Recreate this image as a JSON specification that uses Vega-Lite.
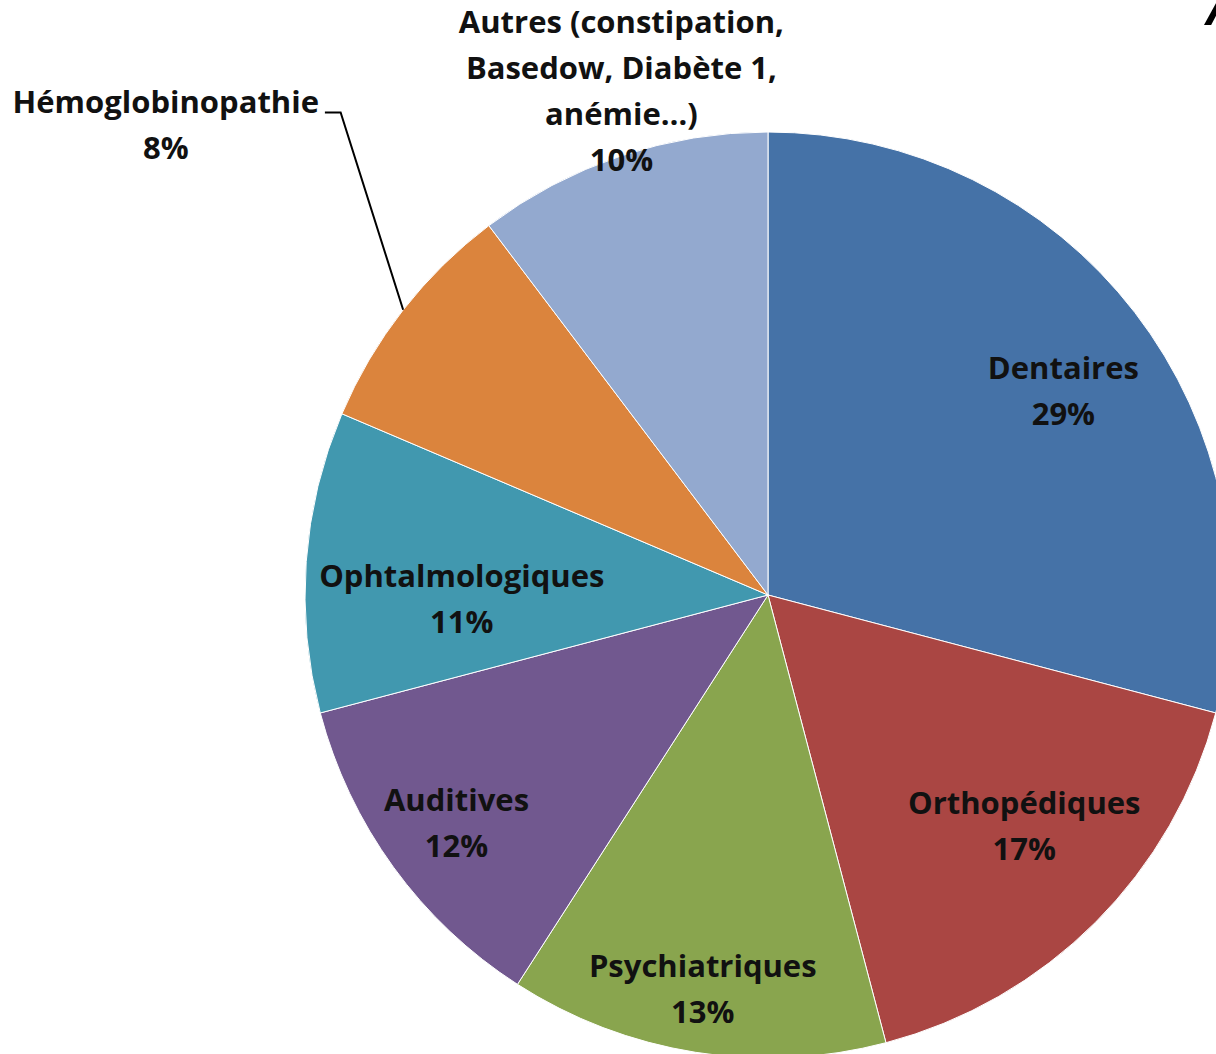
{
  "$schema": "https://vega.github.io/schema/vega-lite/v6.json",
  "width": 1536,
  "height": 1190,
  "autosize": {"type": "none"},
  "padding": 0,
  "background": "white",
  "config": {
    "view": {"stroke": null},
    "text": {"font": "Open Sans", "fontWeight": "bold", "fontSize": 31, "lineHeight": 46, "color": "#111111", "lineBreak": "\n", "align": "center", "baseline": "middle"}
  },
  "datasets": {
    "parts": [
      {"categorie": "Dentaires", "ordre": 1, "valeur": 29.1, "label": "Dentaires\n29%"},
      {"categorie": "Orthopédiques", "ordre": 2, "valeur": 16.8, "label": "Orthopédiques\n17%"},
      {"categorie": "Psychiatriques", "ordre": 3, "valeur": 13.2, "label": "Psychiatriques\n13%"},
      {"categorie": "Auditives", "ordre": 4, "valeur": 11.8, "label": "Auditives\n12%"},
      {"categorie": "Ophtalmologiques", "ordre": 5, "valeur": 10.5, "label": "Ophtalmologiques\n11%"},
      {"categorie": "Hémoglobinopathie", "ordre": 6, "valeur": 8.3, "label": "Hémoglobinopathie\n8%"},
      {"categorie": "Autres", "ordre": 7, "valeur": 10.3, "label": "Autres (constipation,\nBasedow, Diabète 1,\nanémie…)\n10%"}
    ],
    "leader": [
      {"x": -0.957, "y": 1.042, "o": 1},
      {"x": -0.923, "y": 1.042, "o": 2},
      {"x": -0.788, "y": 0.616, "o": 3}
    ],
    "annot": [{"x": 0.944, "y": 1.231, "t": "A"}]
  },
  "layer": [
    {
      "data": {"name": "parts"},
      "mark": {"type": "arc", "outerRadius": 463, "stroke": "white", "strokeWidth": 1},
      "encoding": {
        "theta": {"field": "valeur", "type": "quantitative", "stack": true, "scale": {"domain": [0, 100]}},
        "order": {"field": "ordre", "type": "quantitative", "sort": "ascending"},
        "color": {
          "field": "categorie", "type": "nominal", "legend": null,
          "scale": {
            "domain": ["Dentaires", "Orthopédiques", "Psychiatriques", "Auditives", "Ophtalmologiques", "Hémoglobinopathie", "Autres"],
            "range": ["#4572A7", "#AA4643", "#89A54E", "#71588F", "#4198AF", "#DB843D", "#93A9CF"]
          }
        }
      }
    },
    {
      "data": {"name": "parts"},
      "mark": {"type": "text", "radius": 359, "dx": 11, "dy": -6},
      "encoding": {
        "theta": {"field": "valeur", "type": "quantitative", "stack": true},
        "order": {"field": "ordre", "type": "quantitative", "sort": "ascending"},
        "text": {"condition": {"test": "datum.categorie === 'Dentaires'", "field": "label"}, "value": ""}
      }
    },
    {
      "data": {"name": "parts"},
      "mark": {"type": "text", "radius": 344, "dx": 13, "dy": -33},
      "encoding": {
        "theta": {"field": "valeur", "type": "quantitative", "stack": true},
        "order": {"field": "ordre", "type": "quantitative", "sort": "ascending"},
        "text": {"condition": {"test": "datum.categorie === 'Orthopédiques'", "field": "label"}, "value": ""}
      }
    },
    {
      "data": {"name": "parts"},
      "mark": {"type": "text", "radius": 398, "dx": -3, "dy": -20},
      "encoding": {
        "theta": {"field": "valeur", "type": "quantitative", "stack": true},
        "order": {"field": "ordre", "type": "quantitative", "sort": "ascending"},
        "text": {"condition": {"test": "datum.categorie === 'Psychiatriques'", "field": "label"}, "value": ""}
      }
    },
    {
      "data": {"name": "parts"},
      "mark": {"type": "text", "radius": 385, "dy": -19},
      "encoding": {
        "theta": {"field": "valeur", "type": "quantitative", "stack": true},
        "order": {"field": "ordre", "type": "quantitative", "sort": "ascending"},
        "text": {"condition": {"test": "datum.categorie === 'Auditives'", "field": "label"}, "value": ""}
      }
    },
    {
      "data": {"name": "parts"},
      "mark": {"type": "text", "radius": 305, "dx": -2, "dy": 5},
      "encoding": {
        "theta": {"field": "valeur", "type": "quantitative", "stack": true},
        "order": {"field": "ordre", "type": "quantitative", "sort": "ascending"},
        "text": {"condition": {"test": "datum.categorie === 'Ophtalmologiques'", "field": "label"}, "value": ""}
      }
    },
    {
      "data": {"name": "parts"},
      "mark": {"type": "text", "radius": 764, "dy": -21},
      "encoding": {
        "theta": {"field": "valeur", "type": "quantitative", "stack": true},
        "order": {"field": "ordre", "type": "quantitative", "sort": "ascending"},
        "text": {"condition": {"test": "datum.categorie === 'Hémoglobinopathie'", "field": "label"}, "value": ""}
      }
    },
    {
      "data": {"name": "parts"},
      "mark": {"type": "text", "radius": 524, "dx": 20, "dy": -74},
      "encoding": {
        "theta": {"field": "valeur", "type": "quantitative", "stack": true},
        "order": {"field": "ordre", "type": "quantitative", "sort": "ascending"},
        "text": {"condition": {"test": "datum.categorie === 'Autres'", "field": "label"}, "value": ""}
      }
    },
    {
      "data": {"name": "leader"},
      "mark": {"type": "line", "color": "black", "strokeWidth": 2},
      "encoding": {
        "x": {"field": "x", "type": "quantitative", "axis": null, "scale": {"domain": [-1.6587, 1.6587], "nice": false, "zero": false}},
        "y": {"field": "y", "type": "quantitative", "axis": null, "scale": {"domain": [-1.2851, 1.2851], "nice": false, "zero": false}},
        "order": {"field": "o", "type": "quantitative"}
      }
    },
    {
      "data": {"name": "annot"},
      "mark": {"type": "text", "font": "Liberation Sans", "fontSize": 50, "fontStyle": "italic", "align": "left", "baseline": "alphabetic", "color": "black"},
      "encoding": {
        "x": {"field": "x", "type": "quantitative", "axis": null, "scale": {"domain": [-1.6587, 1.6587], "nice": false, "zero": false}},
        "y": {"field": "y", "type": "quantitative", "axis": null, "scale": {"domain": [-1.2851, 1.2851], "nice": false, "zero": false}},
        "text": {"field": "t"}
      }
    }
  ]
}
